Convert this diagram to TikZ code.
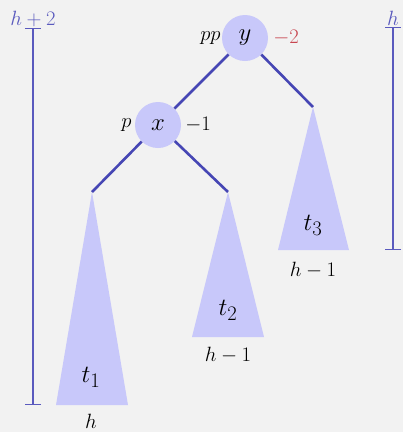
\documentclass[tikz,border=0pt]{standalone}
\usepackage{tikz}
\usetikzlibrary{arrows.meta, positioning}
\definecolor{treeblue}{RGB}{200,200,250}
\definecolor{edgeblue}{RGB}{70,70,180}
\definecolor{barblue}{RGB}{90,90,190}
\definecolor{balred}{RGB}{200,70,80}
\definecolor{bggray}{RGB}{242,242,242}

\begin{document}
\begin{tikzpicture}[
    x=1bp,y=-1bp,
    vtx/.style={circle,fill=treeblue,minimum size=46bp,inner sep=0pt,font=\fontsize{30}{34}\selectfont},
    edge/.style={edgeblue,line width=2.6bp},
    subtree/.style={fill=treeblue},
    tname/.style={font=\fontsize{32}{36}\selectfont},
    hbar/.style={barblue,line width=1.3bp,{Bar[width=16bp,line width=1.3bp]}-{Bar[width=16bp,line width=1.3bp]}},
    lbl/.style={font=\fontsize{20}{24}\selectfont,inner sep=1bp}
]
  % Background
  \fill[bggray] (0,0) rectangle (403,432);
  \useasboundingbox (0,0) rectangle (403,432);

  % Nodes
  \node[vtx] (y) at (245,38) {$y$};
  \node[vtx] (x) at (158,125) {$x$};
  \node[lbl,left=0pt of y] (ypp) {$pp$};
  \node[lbl,right=4bp of y,balred] (ybal) {$-2$};
  \node[lbl,left=2bp of x] (xp) {$p$};
  \node[lbl,right=3bp of x] (xbal) {$-1$};

  % Subtrees
  \coordinate (a1) at (92,192);
  \coordinate (a2) at (228,192);
  \coordinate (a3) at (313,107);
  \fill[subtree] (a1) -- (128,405) -- (56,405) -- cycle;
  \fill[subtree] (a2) -- (264,337) -- (192,337) -- cycle;
  \fill[subtree] (a3) -- (349,250) -- (278,250) -- cycle;
  \node[tname] (t1) at (91,377) {$t_1$};
  \node[tname] (t2) at (228,310) {$t_2$};
  \node[tname] (t3) at (313,225) {$t_3$};
  \node[lbl] (h1) at (91,421) {$h$};
  \node[lbl] (h2) at (228,355) {$h-1$};
  \node[lbl] (h3) at (313,270) {$h-1$};

  % Edges
  \draw[edge] (y) -- (x);
  \draw[edge] (y) -- (a3);
  \draw[edge] (x) -- (a1);
  \draw[edge] (x) -- (a2);

  % Heights
  \coordinate (lt) at (33,28);
  \coordinate (lb) at (33,405);
  \coordinate (rt) at (393,27);
  \coordinate (rb) at (393,250);
  \draw[hbar] (lt) -- (lb);
  \draw[hbar] (rt) -- (rb);
  \node[lbl,barblue,above=0bp of lt] (lh) {$h+2$};
  \node[lbl,barblue,above=0bp of rt] (rh) {$h$};
\end{tikzpicture}
\end{document}
